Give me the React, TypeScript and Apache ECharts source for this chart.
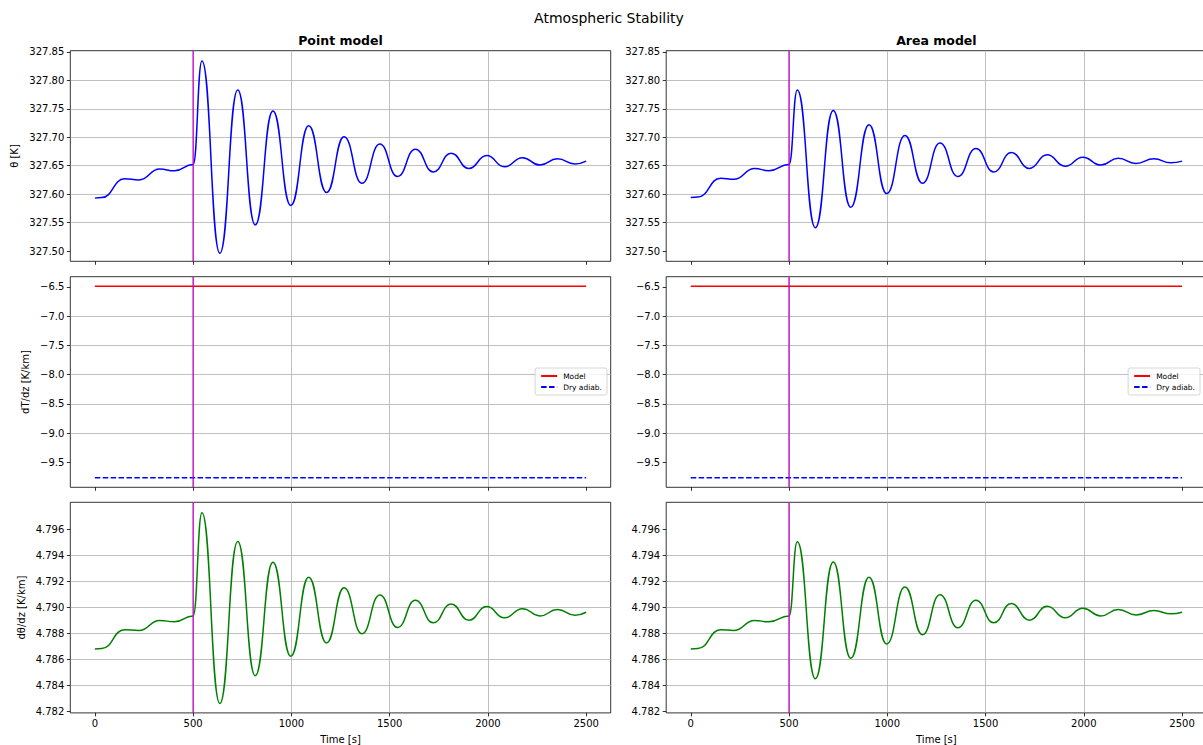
import React, { useEffect, useRef } from "react";
import * as echarts from "echarts";

// ---- data ----
const timesPoint = [0, 35, 151, 224, 330, 405, 500, 545, 636, 727, 816, 906, 997, 1088, 1179, 1268, 1359, 1450, 1540, 1631, 1722, 1813, 1903, 1994, 2084, 2176, 2265, 2354, 2443, 2500];
const thetaPoint = [327.593, 327.594, 327.627, 327.625, 327.644, 327.641, 327.652, 327.834, 327.496, 327.783, 327.546, 327.746, 327.580, 327.720, 327.603, 327.701, 327.619, 327.688, 327.631, 327.679, 327.639, 327.672, 327.645, 327.668, 327.648, 327.664, 327.651, 327.662, 327.653, 327.658];
const gradPoint = [4.78682, 4.78686, 4.78830, 4.78824, 4.78901, 4.78891, 4.78936, 4.79730, 4.78262, 4.79509, 4.78476, 4.79349, 4.78626, 4.79234, 4.78728, 4.79153, 4.78799, 4.79097, 4.78847, 4.79056, 4.78883, 4.79028, 4.78903, 4.79008, 4.78921, 4.78992, 4.78936, 4.78985, 4.78941, 4.78964];

const timesArea = [0, 36, 152, 218, 325, 397, 500, 542, 634, 725, 814, 907, 997, 1090, 1179, 1268, 1359, 1451, 1542, 1631, 1723, 1813, 1905, 1995, 2087, 2175, 2265, 2357, 2443, 2500];
const thetaArea = [327.594, 327.595, 327.628, 327.626, 327.645, 327.641, 327.652, 327.783, 327.541, 327.747, 327.577, 327.722, 327.601, 327.703, 327.619, 327.690, 327.631, 327.680, 327.639, 327.673, 327.645, 327.669, 327.649, 327.665, 327.651, 327.663, 327.654, 327.662, 327.655, 327.658];
const gradArea = [4.78682, 4.78686, 4.78830, 4.78824, 4.78901, 4.78891, 4.78936, 4.79506, 4.78453, 4.79351, 4.78611, 4.79233, 4.78720, 4.79158, 4.78791, 4.79099, 4.78845, 4.79056, 4.78883, 4.79031, 4.78903, 4.79010, 4.78921, 4.78995, 4.78936, 4.78985, 4.78944, 4.78977, 4.78952, 4.78964];

const lapseTimes = [0, 2500];
const modelLapse = [-6.49, -6.49];
const dryAdiabLapse = [-9.76, -9.76];
const perturbationTime = 500;

const xTicks = [0, 500, 1000, 1500, 2000, 2500];
const thetaTicks = [327.5, 327.55, 327.6, 327.65, 327.7, 327.75, 327.8, 327.85];
const lapseTicks = [-9.5, -9.0, -8.5, -8.0, -7.5, -7.0, -6.5];
const gradTicks = [4.782, 4.784, 4.786, 4.788, 4.79, 4.792, 4.794, 4.796];

const columnTitles = ["Point model", "Area model"];
const legendNames = ["Model", "Dry adiab."];

// ---- layout ----
const FONT = "DejaVu Sans";
const COL_LEFT = [70.3, 666.2];
const ROW_TOP = [50.7, 276.7, 502.3];
const W = 540.4;
const H = 210.6;
const MAGENTA = "#cc00cc";

const zip = (xs: number[], ys: number[]) => xs.map((x, i) => [x, ys[i]]);
const minus = (s: string) => s.replace("-", "\u2212");

export default function App() {
  const ref = useRef<HTMLDivElement>(null);

  useEffect(() => {
    if (!ref.current) return;
    const chart = echarts.init(ref.current, undefined, { renderer: "svg" });

    const rows = [
      {
        min: 327.482, max: 327.852, step: 0.05, ticks: thetaTicks, fmt: (v: number) => v.toFixed(2),
        name: "\u03b8 [K]", gap: 51,
      },
      {
        min: -9.9235, max: -6.3265, step: 0.5, ticks: lapseTicks, fmt: (v: number) => minus(v.toFixed(1)),
        name: "dT/dz [K/km]", gap: 40,
      },
      {
        min: 4.7819, max: 4.7981, step: 0.002, ticks: gradTicks, fmt: (v: number) => v.toFixed(3),
        name: "d\u03b8/dz [K/km]", gap: 44,
      },
    ];

    const grids: any[] = [];
    const xAxes: any[] = [];
    const yAxes: any[] = [];
    const series: any[] = [];

    for (let r = 0; r < 3; r++) {
      for (let c = 0; c < 2; c++) {
        const i = r * 2 + c;
        const row = rows[r];
        grids.push({
          left: COL_LEFT[c], top: ROW_TOP[r], width: W, height: H,
          show: true, borderColor: "#000", borderWidth: 0.8, containLabel: false,
          outerBoundsMode: "none",
        });
        xAxes.push({
          type: "value", gridIndex: i, min: -125, max: 2625,
          minInterval: 500, maxInterval: 500,
          axisLine: { show: false, onZero: false },
          axisTick: { show: true, customValues: xTicks, length: 3.5, lineStyle: { color: "#000", width: 0.8 } },
          axisLabel: {
            show: r === 2, customValues: xTicks, margin: 6, fontSize: 10, color: "#000", fontFamily: FONT,
            formatter: (v: number) => String(v),
          },
          splitLine: { show: true, showMinLine: false, showMaxLine: false, lineStyle: { color: "#b0b0b0", width: 0.8 } },
          name: r === 2 ? "Time [s]" : "",
          nameLocation: "middle", nameGap: 22,
          nameTextStyle: { fontSize: 10, color: "#000", fontFamily: FONT },
        });
        yAxes.push({
          type: "value", gridIndex: i, min: row.min, max: row.max,
          minInterval: row.step, maxInterval: row.step,
          axisLine: { show: false, onZero: false },
          axisTick: { show: true, customValues: row.ticks, length: 3.5, lineStyle: { color: "#000", width: 0.8 } },
          axisLabel: {
            show: true, customValues: row.ticks, margin: 6, fontSize: 10, color: "#000", fontFamily: FONT,
            formatter: (v: number) => row.fmt(v),
          },
          splitLine: { show: true, showMinLine: false, showMaxLine: false, lineStyle: { color: "#b0b0b0", width: 0.8 } },
          name: c === 0 ? row.name : "",
          nameLocation: "middle", nameRotate: 90, nameGap: row.gap,
          nameTextStyle: { fontSize: 10, color: "#000", fontFamily: FONT },
        });

        const base = {
          xAxisIndex: i, yAxisIndex: i, symbol: "none", showSymbol: false,
          emphasis: { disabled: true }, silent: true, z: 3,
        };

        // vertical perturbation marker spanning the axis range
        series.push({
          ...base, type: "line", id: "perturbation-" + i, name: "perturbation " + i,
          data: [[perturbationTime, row.min], [perturbationTime, row.max]],
          lineStyle: { color: MAGENTA, width: 1.3, opacity: 1 },
          itemStyle: { color: MAGENTA },
          color: MAGENTA, z: 4,
        });

        if (r === 0) {
          series.push({
            ...base, type: "line", id: "theta-" + i, name: c === 0 ? "theta point" : "theta area",
            data: c === 0 ? zip(timesPoint, thetaPoint) : zip(timesArea, thetaArea),
            smooth: 0.5, smoothMonotone: "x",
            lineStyle: { color: "#0000ff", width: 1.5 }, color: "#0000ff",
          });
        } else if (r === 1) {
          series.push({
            ...base, type: "line", id: "model-" + i, name: legendNames[0],
            data: zip(lapseTimes, modelLapse),
            lineStyle: { color: "#ff0000", width: 1.5 }, color: "#ff0000",
          });
          series.push({
            ...base, type: "line", id: "dry-" + i, name: legendNames[1],
            data: zip(lapseTimes, dryAdiabLapse),
            lineStyle: { color: "#0000ff", width: 1.5, type: [5.5, 2.4] }, color: "#0000ff",
          });
        } else {
          series.push({
            ...base, type: "line", id: "grad-" + i, name: c === 0 ? "grad point" : "grad area",
            data: c === 0 ? zip(timesPoint, gradPoint) : zip(timesArea, gradArea),
            smooth: 0.5, smoothMonotone: "x",
            lineStyle: { color: "#008000", width: 1.5 }, color: "#008000",
          });
        }
      }
    }

    const legendBase = {
      data: legendNames,
      orient: "vertical",
      top: 368,
      itemWidth: 16,
      itemHeight: 8,
      itemGap: 3,
      padding: [4, 5, 4, 5],
      selectedMode: false,
      borderColor: "#cccccc",
      borderWidth: 0.8,
      borderRadius: 2,
      backgroundColor: "rgba(255,255,255,0.8)",
      itemStyle: { color: "transparent", borderWidth: 0, opacity: 0 },
      textStyle: { fontSize: 7.5, color: "#000", fontFamily: FONT, padding: [0, 0, 0, 1] },
    };

    const option: any = {
      animation: false,
      backgroundColor: "#ffffff",
      title: [
        {
          text: "Atmospheric Stability", left: 609, top: 11, textAlign: "center", padding: 0,
          textStyle: { fontSize: 14, fontWeight: "normal", color: "#000", fontFamily: FONT },
        },
        ...columnTitles.map((t, c) => ({
          text: t, left: COL_LEFT[c] + W / 2, top: 34, textAlign: "center", padding: 0,
          textStyle: { fontSize: 12.5, fontWeight: "bold", color: "#000", fontFamily: FONT },
        })),
      ],
      legend: [
        { ...legendBase, right: 596 },
        { ...legendBase, right: 3 },
      ],
      grid: grids,
      xAxis: xAxes,
      yAxis: yAxes,
      series,
    };

    chart.setOption(option);
    return () => chart.dispose();
  }, []);

  return (
    <div
      ref={ref}
      style={{ position: "fixed", left: 0, top: 0, width: 1203, height: 745 }}
    />
  );
}
